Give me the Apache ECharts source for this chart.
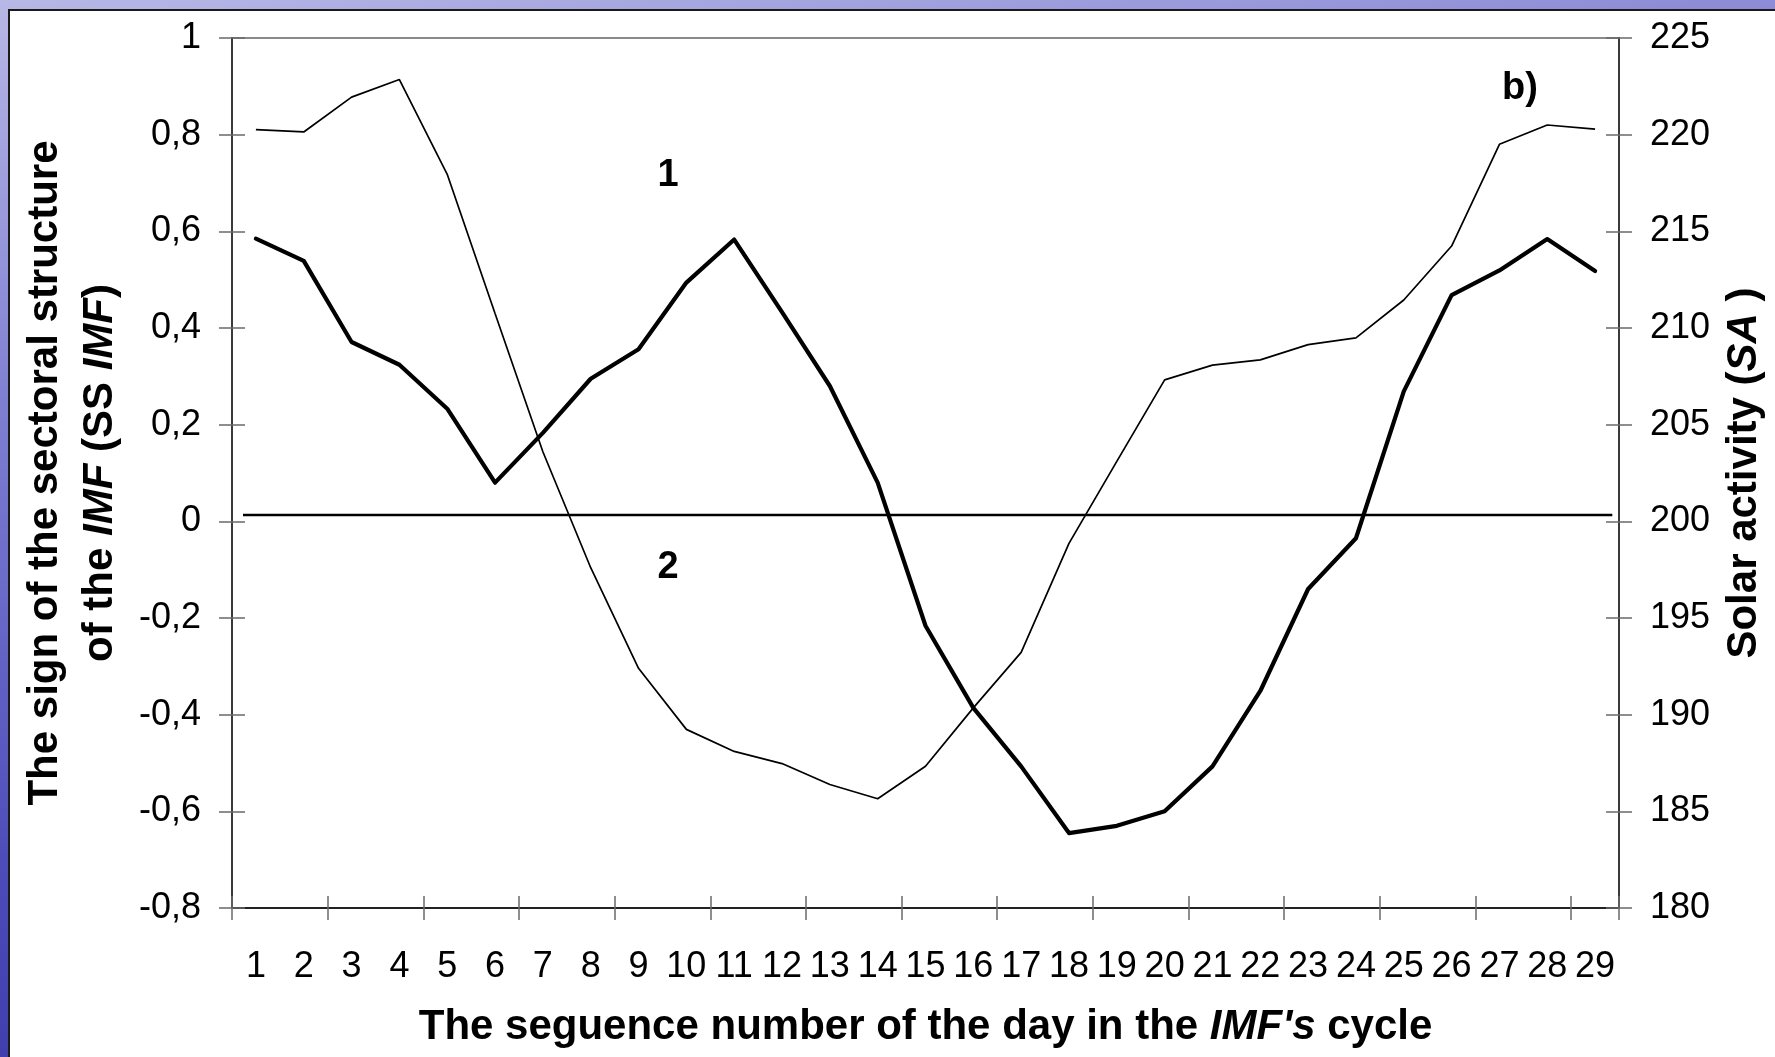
<!DOCTYPE html>
<html>
<head>
<meta charset="utf-8">
<script src="https://cdn.jsdelivr.net/npm/echarts@6/dist/echarts.min.js"></script>
<style>
  html, body { margin: 0; padding: 0; width: 1775px; height: 1057px; overflow: hidden; }
  body { background: linear-gradient(170deg, #b8b8e6 0%, #7e7ed2 30%, #4a4ab8 65%, #2a2a9c 100%); position: relative; }
  #panel { position: absolute; left: 8px; top: 9px; right: 0; bottom: 0; background: #fff; border-left: 2px solid #1a1a1a; border-top: 2px solid #1a1a1a; }
  #chart { position: absolute; left: 0; top: 0; width: 1775px; height: 1057px; }
</style>
</head>
<body>
<div id="panel"></div>
<div id="chart"></div>
<script>
// ---- data ----
const days = ['1','2','3','4','5','6','7','8','9','10','11','12','13','14','15','16','17','18','19','20','21','22','23','24','25','26','27','28','29'];
// curve 1 (thick): sign of the sectoral structure of the IMF (left axis)
const ssImf = [0.585, 0.539, 0.371, 0.324, 0.233, 0.080, 0.183, 0.295, 0.356, 0.494, 0.583, 0.433, 0.280, 0.080, -0.216, -0.386, -0.507, -0.645, -0.630, -0.600, -0.507, -0.351, -0.140, -0.035, 0.269, 0.468, 0.519, 0.584, 0.518];
// curve 2 (thin): solar activity (right axis)
const solarActivity = [220.26, 220.14, 221.94, 222.85, 217.95, 210.75, 203.6, 197.6, 192.4, 189.24, 188.1, 187.47, 186.39, 185.65, 187.33, 190.35, 193.22, 198.86, 203.1, 207.32, 208.08, 208.35, 209.14, 209.49, 211.45, 214.24, 219.5, 220.5, 220.29];
// reference horizontal line (left axis)
const refLineX = [0.23, 28.86];
const refLineY = [0.013, 0.013];
// axis ranges
const leftAxis = { min: -0.8, max: 1, interval: 0.2 };
const rightAxis = { min: 180, max: 225, interval: 5 };
// texts
const xTitle = ['The seguence number of the day in the ', "IMF's", ' cycle'];
const leftTitle1 = 'The sign of the sectoral structure';
const leftTitle2 = ['of the ', 'IMF', ' (SS ', 'IMF', ')'];
const rightTitle = ['Solar activity (', 'SA', ' )'];
const notes = [{ t: '1', x: 668, y: 176 }, { t: '2', x: 668, y: 568 }, { t: 'b)', x: 1520, y: 89 }];

const FONT = '"Liberation Sans", Arial, Helvetica, sans-serif';
const TICK_FS = 36;
const TITLE_FS = 42;
const rich = {
  b: { fontFamily: FONT, fontSize: TITLE_FS, fontWeight: 'bold', color: '#000' },
  bi: { fontFamily: FONT, fontSize: TITLE_FS, fontWeight: 'bold', fontStyle: 'italic', color: '#000' }
};
const fmtComma = v => String(+Number(v).toFixed(1)).replace('.', ',');

const chart = echarts.init(document.getElementById('chart'), null, { renderer: 'canvas' });

const tickStyle = { color: '#6a6a6a', width: 1.5 };

const option = {
  backgroundColor: 'transparent',
  animation: false,
  grid: { left: 232, right: 156, top: 38, bottom: 149, show: true, borderColor: '#8a8a8a', borderWidth: 2, backgroundColor: '#fff' },
  xAxis: [
    {
      type: 'category', data: days, position: 'bottom', boundaryGap: true,
      axisLine: { show: true, onZero: false, lineStyle: { color: '#222', width: 2 } },
      axisTick: { show: true, interval: 1, length: 12, inside: false, lineStyle: tickStyle },
      axisLabel: { interval: 0, fontFamily: FONT, fontSize: TICK_FS, color: '#000', margin: 41 },
      splitLine: { show: false },
      name: '{b|' + xTitle[0] + '}{bi|' + xTitle[1] + '}{b|' + xTitle[2] + '}',
      nameLocation: 'middle', nameGap: 96,
      nameTextStyle: { rich: rich, lineHeight: 46 }
    },
    {
      type: 'category', data: days, position: 'bottom', boundaryGap: true,
      axisLine: { show: false, onZero: false },
      axisTick: { show: true, interval: 1, length: 12, inside: true, lineStyle: tickStyle },
      axisLabel: { show: false }, splitLine: { show: false }
    },
    { type: 'value', min: 0, max: 29, show: false, axisLine: { onZero: false } }
  ],
  yAxis: [
    {
      type: 'value', position: 'left', min: leftAxis.min, max: leftAxis.max, interval: leftAxis.interval,
      axisLine: { show: true, onZero: false, lineStyle: { color: '#3a3a3a', width: 2 } },
      axisTick: { show: true, length: 13, inside: false, lineStyle: tickStyle },
      axisLabel: { fontFamily: FONT, fontSize: TICK_FS, color: '#000', margin: 31, formatter: fmtComma },
      splitLine: { show: false },
      name: '{b|' + leftTitle1 + '}\n{b|' + leftTitle2[0] + '}{bi|' + leftTitle2[1] + '}{b|' + leftTitle2[2] + '}{bi|' + leftTitle2[3] + '}{b|' + leftTitle2[4] + '}',
      nameLocation: 'middle', nameRotate: 90, nameGap: 102,
      nameTextStyle: { rich: rich, lineHeight: 55 }
    },
    {
      type: 'value', position: 'left', min: leftAxis.min, max: leftAxis.max, interval: leftAxis.interval,
      axisLine: { show: false, onZero: false },
      axisTick: { show: true, length: 13, inside: true, lineStyle: tickStyle },
      axisLabel: { show: false }, splitLine: { show: false }
    },
    {
      type: 'value', position: 'right', min: rightAxis.min, max: rightAxis.max, interval: rightAxis.interval,
      axisLine: { show: true, onZero: false, lineStyle: { color: '#3a3a3a', width: 2 } },
      axisTick: { show: true, length: 13, inside: false, lineStyle: tickStyle },
      axisLabel: { fontFamily: FONT, fontSize: TICK_FS, color: '#000', margin: 31 },
      splitLine: { show: false },
      name: '{b|' + rightTitle[0] + '}{bi|' + rightTitle[1] + '}{b|' + rightTitle[2] + '}',
      nameLocation: 'middle', nameRotate: 90, nameGap: 100,
      nameTextStyle: { rich: rich, lineHeight: 46 }
    },
    {
      type: 'value', position: 'right', min: rightAxis.min, max: rightAxis.max, interval: rightAxis.interval,
      axisLine: { show: false, onZero: false },
      axisTick: { show: true, length: 13, inside: true, lineStyle: tickStyle },
      axisLabel: { show: false }, splitLine: { show: false }
    }
  ],
  series: [
    {
      name: 'SS IMF', type: 'line', xAxisIndex: 2, yAxisIndex: 0,
      data: refLineX.map((x, i) => [x, refLineY[i]]),
      symbol: 'none', lineStyle: { color: '#000', width: 2.5 }, silent: true, z: 2
    },
    {
      name: 'SA', type: 'line', xAxisIndex: 0, yAxisIndex: 2, data: solarActivity,
      symbol: 'none', lineStyle: { color: '#000', width: 1.7 }, z: 3
    },
    {
      name: 'SS IMF', type: 'line', xAxisIndex: 0, yAxisIndex: 0, data: ssImf,
      symbol: 'none', lineStyle: { color: '#000', width: 4.2, join: 'round', cap: 'round' }, z: 4
    }
  ],
  graphic: notes.map(n => ({
    type: 'text', x: n.x, y: n.y, z: 10,
    style: { text: n.t, fill: '#000', font: 'bold 38px ' + FONT, align: 'center', verticalAlign: 'middle' }
  }))
};
chart.setOption(option);
</script>
</body>
</html>
